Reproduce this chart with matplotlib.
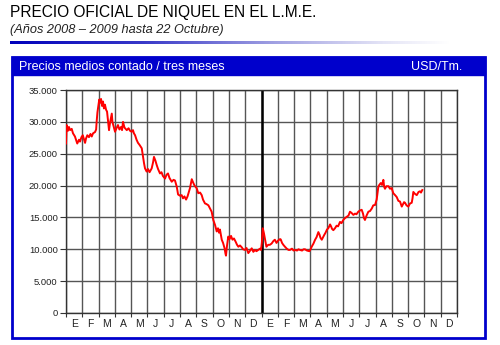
import numpy as np
import matplotlib
matplotlib.use("Agg")
from matplotlib import pyplot as plt
from matplotlib.patches import Rectangle
from matplotlib.ticker import FuncFormatter
from matplotlib.colors import LinearSegmentedColormap

# precio contado niquel LME, USD/Tm (mes 0 = 1 enero 2008)
mes = [0.00, 0.04, 0.12, 0.18, 0.25, 0.35, 0.43, 0.55, 0.64, 0.69, 0.80, 0.86, 0.95,
       1.03, 1.10, 1.17, 1.23, 1.31, 1.41, 1.50, 1.58, 1.66, 1.78, 1.85, 1.88, 1.93, 1.98,
       2.04, 2.09, 2.15, 2.21, 2.27, 2.33, 2.39, 2.46, 2.52, 2.58, 2.64, 2.70, 2.81, 2.85, 2.90,
       3.01, 3.10, 3.19, 3.28, 3.38, 3.44, 3.50, 3.59, 3.73, 3.84, 3.93,
       4.03, 4.11, 4.17, 4.24, 4.33, 4.42, 4.51, 4.65, 4.73, 4.79, 4.85, 4.95,
       5.03, 5.13, 5.26, 5.34, 5.40, 5.49, 5.57, 5.65, 5.77, 5.86, 5.95,
       6.08, 6.17, 6.26, 6.35, 6.49, 6.60, 6.69, 6.80, 6.88,
       7.00, 7.10, 7.18, 7.27, 7.37, 7.46, 7.52, 7.61, 7.72, 7.80, 7.89,
       8.02, 8.12, 8.23, 8.33, 8.41, 8.53, 8.62, 8.74, 8.84, 8.94,
       9.04, 9.15, 9.25, 9.33, 9.39, 9.45, 9.56, 9.64, 9.73, 9.79, 9.82, 9.88, 9.96,
       10.04, 10.13, 10.22, 10.31, 10.41, 10.50, 10.58, 10.68, 10.79, 10.87, 10.99,
       11.08, 11.19, 11.30, 11.40, 11.50, 11.60, 11.69, 11.80, 11.91, 11.97,
       12.02, 12.08, 12.15, 12.20, 12.30, 12.41, 12.51, 12.62, 12.73, 12.82, 12.92,
       13.03, 13.14, 13.18, 13.26, 13.34, 13.44, 13.55, 13.66, 13.75, 13.87, 13.97,
       14.06, 14.18, 14.27, 14.36, 14.49, 14.58, 14.67, 14.79, 14.94,
       15.01, 15.08, 15.19, 15.29, 15.38, 15.49, 15.56, 15.62, 15.70, 15.78, 15.84, 15.93,
       16.02, 16.10, 16.21, 16.27, 16.33, 16.41, 16.51, 16.61, 16.70, 16.82, 16.91,
       17.02, 17.13, 17.23, 17.34, 17.43, 17.53, 17.64, 17.74, 17.83, 17.94,
       18.05, 18.15, 18.23, 18.29, 18.35, 18.45, 18.56, 18.66, 18.77, 18.86, 18.97,
       19.07, 19.12, 19.17, 19.23, 19.32, 19.40, 19.48, 19.53, 19.58, 19.67, 19.79, 19.89, 19.99,
       20.09, 20.20, 20.30, 20.40, 20.50, 20.61, 20.69, 20.75, 20.81, 20.90,
       21.01, 21.12, 21.22, 21.27, 21.32, 21.42, 21.53, 21.64, 21.73, 21.79, 21.87]
precio = [26600, 29500, 28600, 29200, 28700, 28900, 28200, 27700, 27000, 26600, 27200, 26900, 27600,
          27900, 27300, 26700, 27400, 27900, 27600, 28100, 27700, 28200, 28400, 28800, 30000, 31500, 32400,
          33500, 33000, 33600, 32500, 33200, 32100, 32700, 31900, 31600, 30200, 28700, 29800, 31300, 30000, 29500,
          28450, 29000, 29500, 28800, 29200, 28700, 30000, 29100, 28700, 29000, 28600,
          28450, 28700, 28200, 27900, 27200, 26700, 26400, 25850, 24500, 23500, 22700, 22200,
          22600, 22100, 22700, 23600, 24500, 23900, 23200, 22600, 21900, 22100, 21500,
          21100, 21700, 21900, 21200, 20600, 20900, 20800, 19800, 18600,
          18400, 18500, 18000, 18300, 17800, 18300, 18800, 19600, 21000, 20500, 20000,
          19600, 18800, 18900, 18500, 17800, 17200, 17100, 16900, 16400, 15900,
          14600, 13800, 12800, 13300, 12600, 13100, 11500, 11000, 10200, 9300, 9000, 10500, 12000,
          11600, 12100, 11500, 11700, 11200, 10700, 10400, 10600, 10300, 10000, 9900,
          10200, 9400, 9800, 10150, 9600, 9900, 9700, 9900, 10100, 9900,
          11000, 13300, 12500, 11800, 10400, 10700, 10700, 10900, 11300, 11500, 11000,
          11400, 11600, 11550, 11000, 10700, 10400, 10100, 9900, 9900, 10100, 9800,
          9900, 9800, 10000, 9900, 9800, 10000, 10000, 9800, 9700,
          10000, 10400, 10900, 11500, 11900, 12700, 12300, 11800, 11500, 11900, 12200, 12600,
          13100, 13300, 13900, 13600, 13200, 13000, 13300, 13700, 13600, 14300, 14100,
          14600, 14900, 15100, 15300, 15900, 15700, 15400, 15600, 15500, 15900,
          16100, 16200, 15600, 14900, 14600, 15300, 15900, 16000, 16400, 16900, 16950,
          17800, 18800, 19800, 20100, 20400, 20100, 20900, 19800, 19500, 19900, 19900, 19500, 19600,
          18800, 18500, 18200, 17600, 17500, 16700, 17100, 17400, 17300, 16900,
          16700, 17200, 17300, 18000, 19000, 18700, 18500, 19000, 19100, 18900, 19300]

meses = ["E", "F", "M", "A", "M", "J", "J", "A", "S", "O", "N", "D"] * 2
y_ticks = [0, 5000, 10000, 15000, 20000, 25000, 30000, 35000]

AZUL = "#0000CC"
W, H = 500, 345

plt.rcParams["font.family"] = ["Liberation Sans", "DejaVu Sans"]
fig = plt.figure(figsize=(W / 100, H / 100), dpi=100)
fig.patch.set_facecolor("white")


def fx(px):
    return px / W


def fy(py):
    return 1 - py / H


# titulos
fig.text(fx(10), fy(13), "PRECIO OFICIAL DE NIQUEL EN EL L.M.E.", fontsize=11.2,
         color="black", va="center", ha="left")
fig.text(fx(10), fy(30), "(Años 2008 \u2013 2009 hasta 22 Octubre)", fontsize=9.2,
         style="italic", color="#222222", va="center", ha="left")

# barra degradada
gax = fig.add_axes([fx(10), fy(44), fx(440), 3 / H])
grad = np.linspace(0, 1, 256).reshape(1, -1)
cmap = LinearSegmentedColormap.from_list(
    "azul", [(0, "#0000BB"), (0.3, "#3838C8"), (0.6, "#A0A0E2"), (0.85, "#E4E4F6"), (1, "#FFFFFF")])
gax.imshow(grad, aspect="auto", cmap=cmap)
gax.axis("off")

# marco del panel
fig.patches.append(Rectangle((fx(12), fy(338)), fx(473), 281 / H, transform=fig.transFigure,
                             facecolor="white", edgecolor=AZUL, linewidth=2, zorder=0))
fig.patches.append(Rectangle((fx(12), fy(75)), fx(473), 18 / H, transform=fig.transFigure,
                             facecolor=AZUL, edgecolor=AZUL, linewidth=1, zorder=1))
fig.text(fx(19), fy(66.5), "Precios medios contado / tres meses", fontsize=9,
         color="white", va="center", ha="left", zorder=3)
fig.text(fx(462), fy(66.5), "USD/Tm.", fontsize=9, color="white", va="center",
         ha="right", zorder=3)

# grafico
ax = fig.add_axes([fx(66), fy(313), fx(391), 223 / H])
ax.set_zorder(5)
ax.set_xlim(0, 24)
ax.set_ylim(0, 35000)
ax.set_yticks(y_ticks)
ax.yaxis.set_major_formatter(FuncFormatter(lambda v, p: f"{int(v):,}".replace(",", ".")))
ax.set_xticks(np.arange(0, 25))
ax.set_xticklabels([])
ax.set_xticks(np.arange(24) + 0.5, minor=True)
ax.set_xticklabels(meses, minor=True)
ax.tick_params(axis="x", which="minor", length=0, pad=4, labelsize=7.5, labelcolor="#222222")
ax.tick_params(axis="x", which="major", length=3, direction="out", color="#333333")
ax.tick_params(axis="y", length=4, direction="out", pad=2, labelsize=6.8,
               labelcolor="#222222", color="#333333")
ax.grid(True, which="major", color="#555555", linewidth=1.0)
ax.set_axisbelow(True)
for s in ax.spines.values():
    s.set_color("#333333")
    s.set_linewidth(1.0)
ax.axvline(12, color="black", linewidth=1.8, zorder=2)

ax.plot(mes, precio, color="#FF0000", linewidth=1.4, zorder=3)

fig.savefig("out.png", dpi=100)
